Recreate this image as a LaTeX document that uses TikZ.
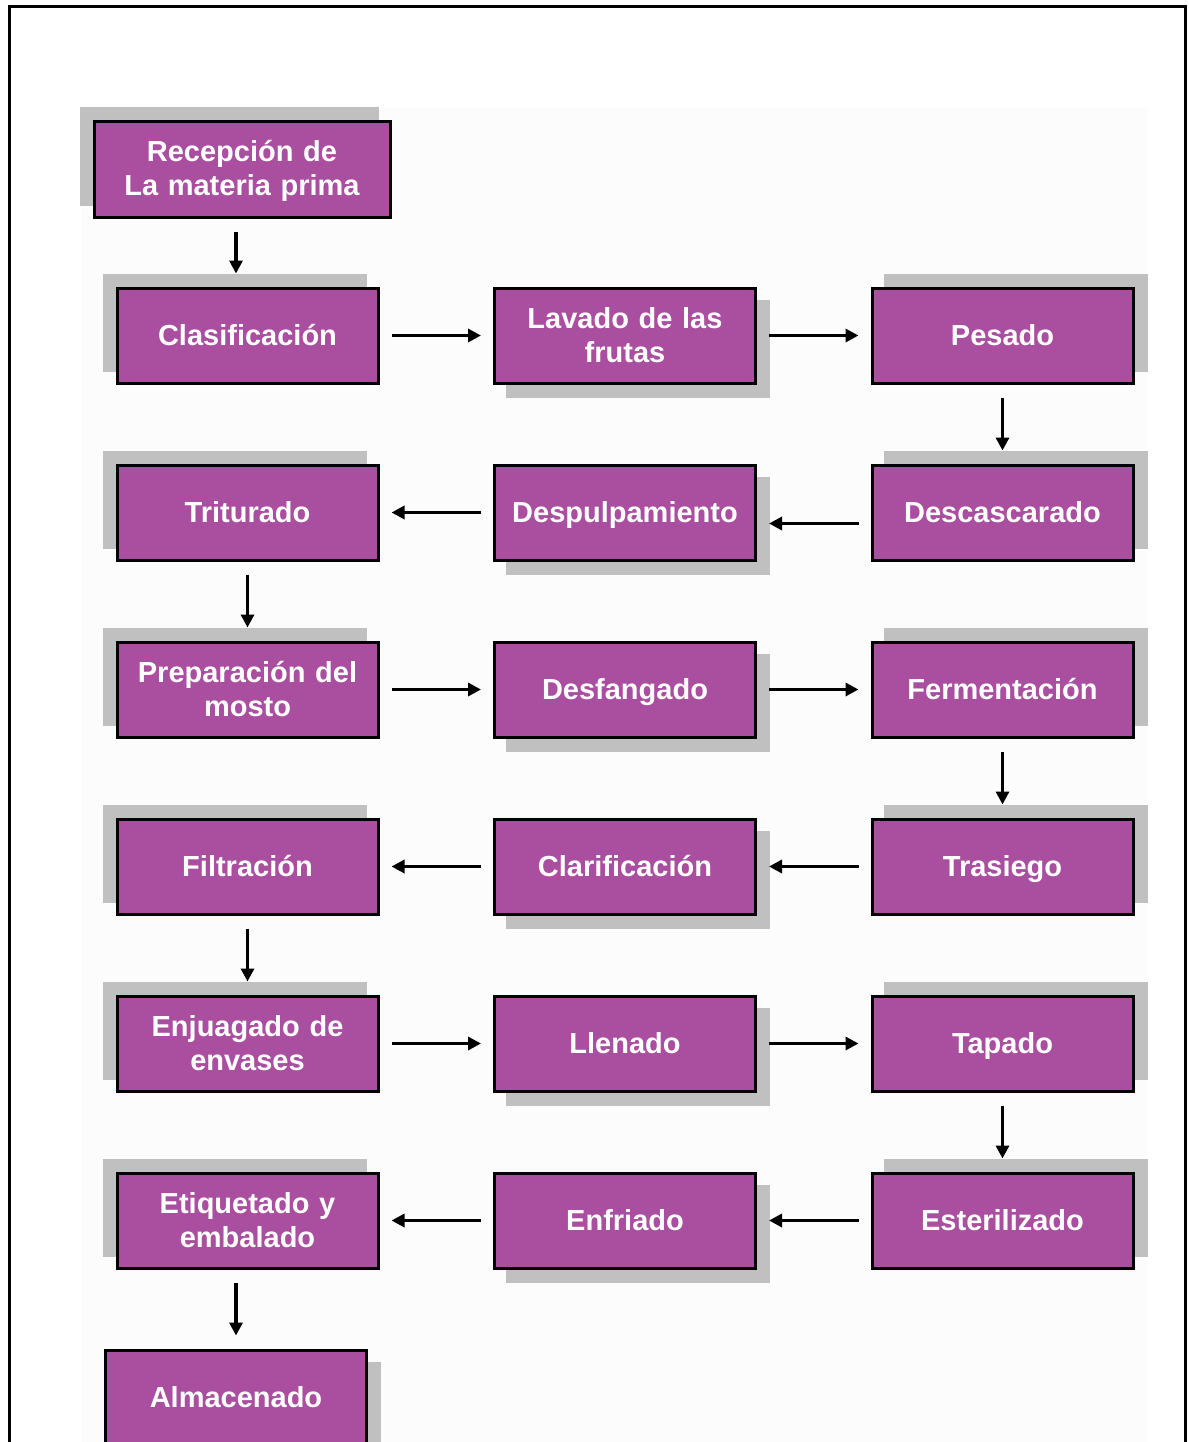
\documentclass[tikz,border=0pt]{standalone}
\usepackage{fontspec}
\setmainfont{Liberation Sans}
\usetikzlibrary{arrows.meta,shadows}
\definecolor{boxfill}{RGB}{170,78,160}
\definecolor{shadegray}{RGB}{192,192,192}
\definecolor{panel}{RGB}{252,252,252}
\begin{document}
\begin{tikzpicture}[x=1pt,y=-1pt,
  stepbox/.style={rectangle, draw=black, line width=3pt, fill=boxfill,
    minimum width=261pt, minimum height=95pt, inner sep=0pt,
    text width=255pt, text=white, align=center,
    font=\fontsize{29}{34}\selectfont\bfseries,
    execute at begin node={\rule{0pt}{27pt}},
    execute at end node={\rule[-8pt]{0pt}{8pt}}},
  shadowtl/.style={general shadow={fill=shadegray, draw=shadegray, line width=3pt, shadow xshift=-13pt, shadow yshift=13pt}},
  shadowtr/.style={general shadow={fill=shadegray, draw=shadegray, line width=3pt, shadow xshift=13pt, shadow yshift=13pt}},
  shadowbr/.style={general shadow={fill=shadegray, draw=shadegray, line width=3pt, shadow xshift=13pt, shadow yshift=-13pt}},
  arr/.style={line width=3.5pt, -{Triangle[length=13pt,width=13pt]}},
  harr/.style={arr, shorten <=12pt, shorten >=12pt},
  varr/.style={arr, shorten <=13pt, shorten >=13pt}]
\useasboundingbox (0,0) rectangle (1188,1442);
\clip (0,0) rectangle (1188,1442);
% page panel and frame
\fill[panel] (81,108) rectangle (1147,1450);
\draw[line width=3pt] (9.5,1450) -- (9.5,6.5) -- (1185.5,6.5) -- (1185.5,1450);

% process steps
\node[stepbox, shadowtl, minimum width=296pt, text width=290pt] (rec) at (242,169.5) {Recepción de\\La materia prima};

\node[stepbox, shadowtl] (cla) at (247.5,335.5) {Clasificación};
\node[stepbox, shadowbr] (lav) at (625,335.5) {Lavado de las\\frutas};
\node[stepbox, shadowtr] (pes) at (1002.5,335.5) {Pesado};

\node[stepbox, shadowtl] (tri) at (247.5,512.5) {Triturado};
\node[stepbox, shadowbr] (dsp) at (625,512.5) {Despulpamiento};
\node[stepbox, shadowtr] (dsc) at (1002.5,512.5) {Descascarado};

\node[stepbox, shadowtl] (pre) at (247.5,689.5) {Preparación del\\mosto};
\node[stepbox, shadowbr] (dsf) at (625,689.5) {Desfangado};
\node[stepbox, shadowtr] (fer) at (1002.5,689.5) {Fermentación};

\node[stepbox, shadowtl] (fil) at (247.5,866.5) {Filtración};
\node[stepbox, shadowbr] (clr) at (625,866.5) {Clarificación};
\node[stepbox, shadowtr] (tra) at (1002.5,866.5) {Trasiego};

\node[stepbox, shadowtl] (enj) at (247.5,1043.5) {Enjuagado de\\envases};
\node[stepbox, shadowbr] (lle) at (625,1043.5) {Llenado};
\node[stepbox, shadowtr] (tap) at (1002.5,1043.5) {Tapado};

\node[stepbox, shadowtl] (eti) at (247.5,1220.5) {Etiquetado y\\embalado};
\node[stepbox, shadowbr] (enf) at (625,1220.5) {Enfriado};
\node[stepbox, shadowtr] (est) at (1002.5,1220.5) {Esterilizado};

\node[stepbox, shadowbr] (alm) at (236,1397.5) {Almacenado};

% flow
\draw[varr] (rec.south -| alm) -- (cla.north -| alm);
\draw[harr] (cla) -- (lav);
\draw[harr] (lav) -- (pes);
\draw[varr] (pes) -- (dsc);
\draw[harr] ([yshift=-11pt]dsc.west) -- ([yshift=-11pt]dsp.east);
\draw[harr] (dsp) -- (tri);
\draw[varr] (tri) -- (pre);
\draw[harr] (pre) -- (dsf);
\draw[harr] (dsf) -- (fer);
\draw[varr] (fer) -- (tra);
\draw[harr] (tra) -- (clr);
\draw[harr] (clr) -- (fil);
\draw[varr] (fil) -- (enj);
\draw[harr] (enj) -- (lle);
\draw[harr] (lle) -- (tap);
\draw[varr] (tap) -- (est);
\draw[harr] (est) -- (enf);
\draw[harr] (enf) -- (eti);
\draw[varr] (eti.south -| alm) -- (alm);
\end{tikzpicture}
\end{document}
